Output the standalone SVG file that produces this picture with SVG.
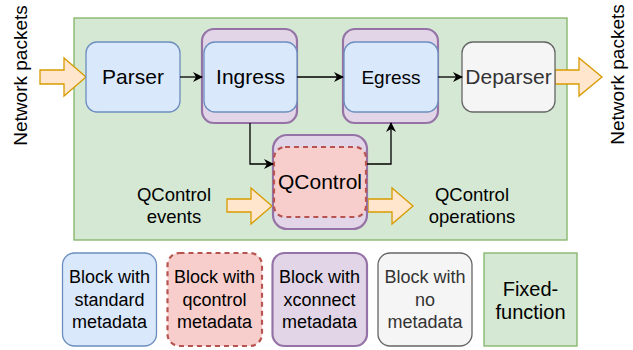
<svg xmlns="http://www.w3.org/2000/svg" width="633" height="350" viewBox="0 0 633 350">
  <defs>
    <marker id="arr" viewBox="0 0 10 10" refX="9" refY="5" markerWidth="10" markerHeight="10" markerUnits="userSpaceOnUse" orient="auto">
      <path d="M0,0 L10,5 L0,10 L3,5 Z" fill="#000"/>
    </marker>
    <style>
      text { font-family: "Liberation Sans", Arial, Helvetica, sans-serif; fill: #000; }
      .std { fill: #dae8fc; stroke: #6c8ebf; stroke-width: 1.3; }
      .xc { fill: #e1d5e7; stroke: #9673a6; stroke-width: 2.2; }
      .qc { fill: #f8cecc; stroke: #b85450; stroke-width: 2.2; stroke-dasharray: 5 4; }
      .none { fill: #f5f5f5; stroke: #666666; stroke-width: 1.3; }
      .ff { fill: #d5e8d4; stroke: #82b366; stroke-width: 1.3; }
      .big { fill: #ffe6cc; stroke: #d79b00; stroke-width: 1.3; }
      .wire { fill: none; stroke: #000; stroke-width: 1.3; marker-end: url(#arr); }
      .lbl { font-size: 21px; text-anchor: middle; }
      .side { font-size: 18.5px; text-anchor: middle; }
      .leg { font-size: 18px; text-anchor: middle; }
      .grey { fill: #333; }
    </style>
  </defs>

  <!-- fixed-function pipeline area -->
  <g id="pipeline">
    <rect class="ff" x="74" y="18" width="493" height="222"/>
  </g>

  <!-- packet flow labels -->
  <g id="in-label">
    <text class="side" transform="translate(27,75.5) rotate(-90)" style="font-size:19px">Network packets</text>
  </g>
  <g id="out-label">
    <text class="side" transform="translate(624,74.5) rotate(-90)" style="font-size:19px">Network packets</text>
  </g>

  <!-- wide flow arrows -->
  <g id="packets-in">
    <path class="big" d="M40,70 H64 V58 L86,77 L64,96 V84 H40 Z"/>
  </g>
  <g id="packets-out">
    <path class="big" d="M555,70 H579 V58 L602,77 L579,96 V84 H555 Z"/>
  </g>
  <g id="events-in">
    <path class="big" d="M227,199 H251 V188 L272,206 L251,224 V212 H227 Z"/>
  </g>
  <g id="operations-out">
    <path class="big" d="M368,199 H392 V188 L413,206 L392,224 V212 H368 Z"/>
  </g>

  <g id="parser">
    <rect class="std" x="86" y="42" width="94" height="70" rx="11"/>
    <text class="lbl" x="133" y="84">Parser</text>
  </g>

  <g id="ingress">
    <rect class="xc" x="202" y="29" width="95" height="94" rx="12"/>
    <rect class="std" x="204" y="42" width="93" height="70" rx="11"/>
    <text class="lbl" x="250.5" y="84">Ingress</text>
  </g>

  <g id="egress">
    <rect class="xc" x="343" y="29" width="95" height="94" rx="12"/>
    <rect class="std" x="344" y="42" width="94" height="70" rx="11"/>
    <text class="lbl" x="391" y="84" style="font-size:19px">Egress</text>
  </g>

  <g id="deparser">
    <rect class="none" x="462" y="42" width="93" height="70" rx="11"/>
    <text class="lbl grey" x="508.5" y="84">Deparser</text>
  </g>

  <g id="qcontrol">
    <rect class="xc" x="273" y="135" width="94" height="94" rx="14"/>
    <rect class="qc" x="274" y="147" width="92" height="70" rx="11"/>
    <text class="lbl" x="320" y="189">QControl</text>
  </g>

  <g id="events-label">
    <text class="side" x="174" y="201">QControl</text>
    <text class="side" x="174" y="223">events</text>
  </g>
  <g id="operations-label">
    <text class="side" x="472" y="201">QControl</text>
    <text class="side" x="472" y="223">operations</text>
  </g>

  <!-- connectors -->
  <g id="connectors">
    <path class="wire" d="M180,77 H202"/>
    <path class="wire" d="M297,77 H343"/>
    <path class="wire" d="M438,77 H462"/>
    <path class="wire" d="M250,123 V164 H273"/>
    <path class="wire" d="M367,164 H391 V123"/>
  </g>

  <!-- legend -->
  <g id="legend-standard">
    <rect class="std" x="62.5" y="253" width="94" height="93" rx="12"/>
    <text class="leg" x="109.5" y="283">Block with</text>
    <text class="leg" x="109.5" y="306">standard</text>
    <text class="leg" x="109.5" y="328">metadata</text>
  </g>
  <g id="legend-qcontrol">
    <rect class="qc" x="167.5" y="253" width="94.5" height="93" rx="12"/>
    <text class="leg" x="214.5" y="283">Block with</text>
    <text class="leg" x="214.5" y="306">qcontrol</text>
    <text class="leg" x="214.5" y="328">metadata</text>
  </g>
  <g id="legend-xconnect">
    <rect class="xc" x="272.5" y="253" width="94.5" height="93" rx="12"/>
    <text class="leg" x="319.5" y="283">Block with</text>
    <text class="leg" x="319.5" y="306">xconnect</text>
    <text class="leg" x="319.5" y="328">metadata</text>
  </g>
  <g id="legend-none">
    <rect class="none" x="378" y="253" width="94" height="93" rx="12"/>
    <text class="leg grey" x="425" y="283">Block with</text>
    <text class="leg grey" x="425" y="306">no</text>
    <text class="leg grey" x="425" y="328">metadata</text>
  </g>
  <g id="legend-fixed">
    <rect class="ff" x="484" y="253" width="93" height="93"/>
    <text class="leg" x="530.5" y="296" style="font-size:20px">Fixed-</text>
    <text class="leg" x="530.5" y="319" style="font-size:20px">function</text>
  </g>
</svg>
